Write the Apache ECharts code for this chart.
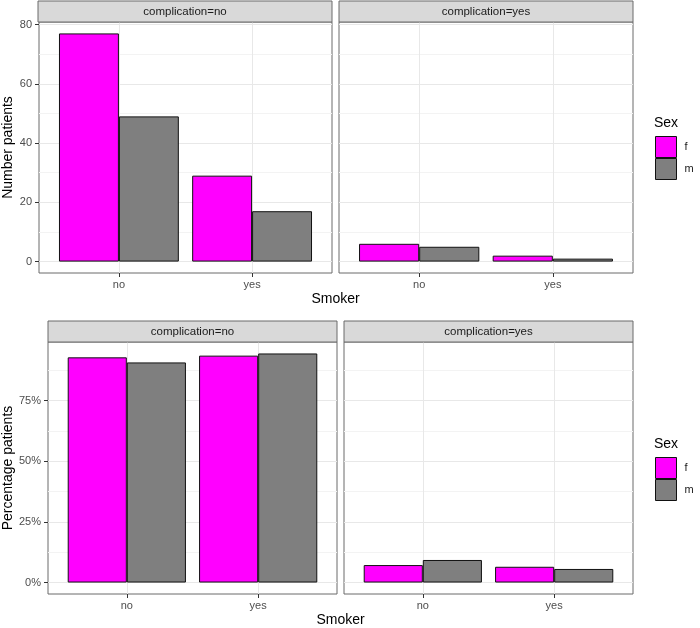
<!DOCTYPE html>
<html>
<head>
<meta charset="utf-8">
<script src="https://cdn.jsdelivr.net/npm/echarts@6/dist/echarts.min.js"></script>
<style>
html,body{margin:0;padding:0;background:#fff;}
#c{width:700px;height:628px;}
</style>
</head>
<body>
<div id="c"></div>
<script>
// ---- data ----
const categories = ['no', 'yes'];
const sexLevels = ['f', 'm'];
const facetLabels = ['complication=no', 'complication=yes'];
// counts (top row)
const countNoCompF = [77, 29];
const countNoCompM = [49, 17];
const countCompF = [6, 2];
const countCompM = [5, 1];
// percentages (bottom row)
const pctNoCompF = [92.8, 93.5];
const pctNoCompM = [90.7, 94.4];
const pctCompF = [7.2, 6.5];
const pctCompM = [9.3, 5.6];
// tick values
const countTicks = [0, 20, 40, 60, 80];
const countMinor = [10, 30, 50, 70];
const pctTicks = [0, 25, 50, 75];
const pctMinor = [12.5, 37.5, 62.5, 87.5];

// ---- layout / style ----
const FONT = 'Liberation Sans, Arial, Helvetica, sans-serif';
const COL_F = '#FF00FF', COL_M = '#7F7F7F';
const grids = [
  {left: 38, top: 22, width: 294, height: 251},
  {left: 339, top: 22, width: 294, height: 251},
  {left: 48, top: 342, width: 289, height: 252},
  {left: 344, top: 342, width: 289, height: 252}
];
const countRange = [-3.85, 80.85];
const pctRange = [-4.72, 99.12];

const panels = [
  {f: countNoCompF, m: countNoCompM, ticks: countTicks, minor: countMinor, range: countRange, fmt: v => String(v), facet: 0, row: 0},
  {f: countCompF, m: countCompM, ticks: countTicks, minor: countMinor, range: countRange, fmt: v => String(v), facet: 1, row: 0},
  {f: pctNoCompF, m: pctNoCompM, ticks: pctTicks, minor: pctMinor, range: pctRange, fmt: v => v + '%', facet: 0, row: 1},
  {f: pctCompF, m: pctCompM, ticks: pctTicks, minor: pctMinor, range: pctRange, fmt: v => v + '%', facet: 1, row: 1}
];
const xPos = categories.map((c, i) => i + 1);
const pairs = arr => arr.map((v, i) => [xPos[i], v]);

const xAxes = [], yAxes = [], series = [], graphics = [];
panels.forEach((p, i) => {
  const g = grids[i];
  const isLeft = p.facet === 0;
  xAxes.push({
    type: 'value', gridIndex: i, min: 0.4, max: 2.6,
    splitLine: {show: false},
    axisLine: {show: false, onZero: false},
    axisTick: {show: true, customValues: xPos, length: 4, lineStyle: {color: '#333', width: 1}},
    axisLabel: {customValues: xPos, formatter: v => categories[Math.round(v) - 1], fontSize: 11, color: '#4d4d4d', fontFamily: FONT, margin: 6}
  });
  yAxes.push({
    type: 'value', gridIndex: i, min: p.range[0], max: p.range[1],
    splitLine: {show: false},
    axisLine: {show: false, onZero: false},
    axisTick: {show: isLeft, customValues: p.ticks, length: 4, lineStyle: {color: '#333', width: 1}},
    axisLabel: {show: isLeft, customValues: p.ticks, formatter: p.fmt, fontSize: 11, color: '#4d4d4d', fontFamily: FONT, margin: 7},
    name: isLeft ? (p.row === 0 ? 'Number patients' : 'Percentage patients') : '',
    nameLocation: 'middle',
    nameGap: p.row === 0 ? 24 : 33,
    nameTextStyle: {fontSize: 14, color: '#000', fontFamily: FONT}
  });
  // grid lines (under bars)
  const mlData = [];
  p.minor.forEach(v => mlData.push({yAxis: v, lineStyle: {color: '#f3f3f3', width: 1, type: 'solid'}}));
  p.ticks.forEach(v => mlData.push({yAxis: v, lineStyle: {color: '#e8e8e8', width: 1, type: 'solid'}}));
  xPos.forEach(v => mlData.push({xAxis: v, lineStyle: {color: '#e8e8e8', width: 1, type: 'solid'}}));
  series.push({
    type: 'line', name: 'gridlines' + i, xAxisIndex: i, yAxisIndex: i, data: [], silent: true,
    markLine: {silent: true, symbol: 'none', label: {show: false}, emphasis: {disabled: true}, animation: false, z: 1, data: mlData}
  });
  [['f', p.f, COL_F], ['m', p.m, COL_M]].forEach(([nm, arr, col]) => {
    series.push({
      type: 'bar', name: nm, xAxisIndex: i, yAxisIndex: i, data: pairs(arr),
      barGap: '0%', barCategoryGap: '10%', z: 3,
      itemStyle: {color: col, borderColor: '#111', borderWidth: 1},
      emphasis: {disabled: true}
    });
  });
  // strip
  const stripTop = p.row === 0 ? 1 : 321;
  graphics.push({
    type: 'rect', silent: true, z: 10,
    shape: {x: g.left, y: stripTop, width: g.width, height: g.top - stripTop},
    style: {fill: '#d9d9d9', stroke: '#6a6a6a', lineWidth: 1}
  });
  graphics.push({
    type: 'text', silent: true, z: 11,
    style: {text: facetLabels[p.facet], x: g.left + g.width / 2, y: (stripTop + g.top) / 2, align: 'center', verticalAlign: 'middle', fontSize: 11.5, fontFamily: FONT, fill: '#1a1a1a'}
  });
});

// x axis titles
graphics.push({type: 'text', silent: true, style: {text: 'Smoker', x: (grids[0].left + grids[1].left + grids[1].width) / 2, y: 299, align: 'center', verticalAlign: 'middle', fontSize: 14, fontFamily: FONT, fill: '#000'}});
graphics.push({type: 'text', silent: true, style: {text: 'Smoker', x: (grids[2].left + grids[3].left + grids[3].width) / 2, y: 620, align: 'center', verticalAlign: 'middle', fontSize: 14, fontFamily: FONT, fill: '#000'}});
// legend titles
graphics.push({type: 'text', silent: true, style: {text: 'Sex', x: 654, y: 123, align: 'left', verticalAlign: 'middle', fontSize: 14, fontFamily: FONT, fill: '#000'}});
graphics.push({type: 'text', silent: true, style: {text: 'Sex', x: 654, y: 444, align: 'left', verticalAlign: 'middle', fontSize: 14, fontFamily: FONT, fill: '#000'}});

const legendBase = {
  data: sexLevels, orient: 'vertical', left: 655, itemWidth: 21, itemHeight: 21, itemGap: 0,
  padding: 0, selectedMode: false, icon: 'rect',
  itemStyle: {borderColor: '#111', borderWidth: 1},
  textStyle: {fontSize: 11, color: '#1a1a1a', fontFamily: FONT, padding: [0, 0, 0, 3]}
};

const option = {
  animation: false,
  backgroundColor: '#fff',
  grid: grids.map(g => Object.assign({show: true, borderColor: '#6a6a6a', borderWidth: 1, backgroundColor: '#fff', containLabel: false}, g)),
  xAxis: xAxes,
  yAxis: yAxes,
  legend: [Object.assign({top: 136}, legendBase), Object.assign({top: 457}, legendBase)],
  series: series,
  graphic: graphics
};

const chart = echarts.init(document.getElementById('c'), null, {renderer: 'canvas'});
chart.setOption(option);
</script>
</body>
</html>
